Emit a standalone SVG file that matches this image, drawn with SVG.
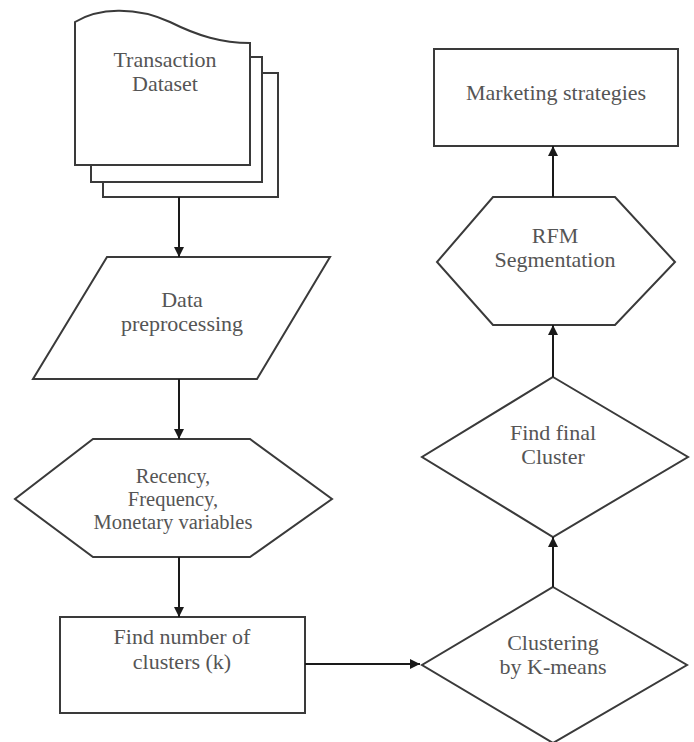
<svg xmlns="http://www.w3.org/2000/svg" width="694" height="742" viewBox="0 0 694 742">
<style>
.shape{fill:#fff;stroke:#3a3a3a;stroke-width:2}
.conn{stroke:#1a1a1a;stroke-width:2;fill:none}
text{font-family:"Liberation Serif","Times New Roman",serif;font-size:22px;fill:#555;text-anchor:middle}
.tight{font-size:20.5px}
</style>
<defs>
<marker id="ah" viewBox="0 0 10 10" refX="10" refY="5" markerWidth="10" markerHeight="10" markerUnits="userSpaceOnUse" orient="auto">
<path d="M0,0 L10,5 L0,10 Z" fill="#1a1a1a"/>
</marker>
</defs>
<rect width="694" height="742" fill="#fff"/>
<g id="transaction-dataset">
<path class="shape" d="M103,73 L278,73 L278,197 L103,197 Z"/>
<path class="shape" d="M91,57 L262,57 L262,182 L91,182 Z"/>
<path class="shape" d="M75,22 C98,8 135,6 170,22 C198,36 222,43 250,43 L250,165 L75,165 Z"/>
<text x="165" y="67">Transaction</text>
<text x="165" y="91">Dataset</text>
</g>
<g id="data-preprocessing">
<path class="shape" d="M107,257 L330,257 L257,379 L33,379 Z"/>
<text x="182" y="307">Data</text>
<text x="182" y="331">preprocessing</text>
</g>
<g id="rfm-variables">
<path class="shape" d="M93,439 L250,439 L332,499 L250,557 L93,557 L15,499 Z"/>
<text class="tight" x="173" y="483">Recency,</text>
<text class="tight" x="173" y="506">Frequency,</text>
<text class="tight" x="173" y="529">Monetary variables</text>
</g>
<g id="find-number">
<rect class="shape" x="60" y="617" width="245" height="96"/>
<text x="182" y="644">Find number of</text>
<text x="182" y="669">clusters (k)</text>
</g>
<g id="clustering">
<path class="shape" d="M553,587 L687,665 L553,743 L422,665 Z"/>
<text x="553" y="650">Clustering</text>
<text x="553" y="674">by K-means</text>
</g>
<g id="find-final">
<path class="shape" d="M553,377 L688,457 L553,537 L422,457 Z"/>
<text x="553" y="440">Find final</text>
<text x="553" y="464">Cluster</text>
</g>
<g id="rfm-segmentation">
<path class="shape" d="M493,197 L615,197 L675,262 L615,325 L493,325 L437,262 Z"/>
<text x="555" y="243">RFM</text>
<text x="555" y="267">Segmentation</text>
</g>
<g id="marketing">
<rect class="shape" x="434" y="49" width="244" height="97"/>
<text x="556" y="100">Marketing strategies</text>
</g>
<g id="connectors">
<line class="conn" x1="179" y1="197" x2="179" y2="257" marker-end="url(#ah)"/>
<line class="conn" x1="179" y1="379" x2="179" y2="439" marker-end="url(#ah)"/>
<line class="conn" x1="179" y1="557" x2="179" y2="617" marker-end="url(#ah)"/>
<line class="conn" x1="305" y1="664" x2="420" y2="664" marker-end="url(#ah)"/>
<line class="conn" x1="553" y1="587" x2="553" y2="537" marker-end="url(#ah)"/>
<line class="conn" x1="553" y1="377" x2="553" y2="325" marker-end="url(#ah)"/>
<line class="conn" x1="553" y1="197" x2="553" y2="146" marker-end="url(#ah)"/>
</g>
</svg>
